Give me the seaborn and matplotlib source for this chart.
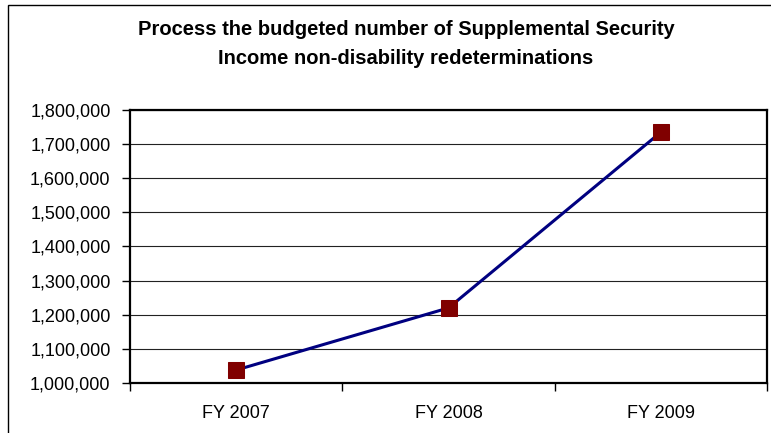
import matplotlib
matplotlib.use("Agg")
import matplotlib.pyplot as plt
import matplotlib.ticker as mticker
from matplotlib.patches import Rectangle
import seaborn as sns
import pandas as pd

fiscal_years = ["FY 2007", "FY 2008", "FY 2009"]
redeterminations = [1038000, 1220000, 1735000]
y_ticks = [1000000, 1100000, 1200000, 1300000, 1400000, 1500000, 1600000, 1700000, 1800000]
title_text = "Process the budgeted number of Supplemental Security\nIncome non-disability redeterminations"

sns.set_theme(style="white")
plt.rcParams["font.family"] = ["Liberation Sans", "DejaVu Sans"]
plt.rcParams["text.color"] = "black"

df = pd.DataFrame({"year": fiscal_years, "value": redeterminations})
df["pos"] = range(len(df))

fig = plt.figure(figsize=(7.71, 4.33), dpi=100)
ax = fig.add_axes([130 / 771, 50 / 433, 637 / 771, 273 / 433])

sns.lineplot(data=df, x="pos", y="value", ax=ax, color="#000080", linewidth=2.2,
             marker="s", markersize=11, markerfacecolor="#800000",
             markeredgecolor="#800000", zorder=3)

ax.set_xlim(-0.5, len(fiscal_years) - 0.5)
ax.set_ylim(y_ticks[0], y_ticks[-1])
ax.set_yticks(y_ticks)
ax.yaxis.set_major_formatter(mticker.FuncFormatter(lambda v, p: f"{int(v):,}"))
ax.set_xticks(range(len(fiscal_years)))
ax.set_xticklabels(fiscal_years)
ax.set_xticks([i - 0.5 for i in range(len(fiscal_years) + 1)], minor=True)
ax.tick_params(axis="x", which="major", length=0, pad=16, labelsize=13, labelcolor="black")
ax.tick_params(axis="x", which="minor", length=6, width=1, color="black", direction="out", bottom=True)
ax.tick_params(axis="y", which="major", length=6, width=1, color="black", direction="out",
               left=True, pad=8, labelsize=13, labelcolor="black")
ax.set_xlabel("")
ax.set_ylabel("")

ax.grid(axis="y", color="#222222", linewidth=0.8)
ax.grid(axis="x", visible=False)
for side in ["left", "right", "top", "bottom"]:
    ax.spines[side].set_visible(True)
    ax.spines[side].set_color("black")
    ax.spines[side].set_linewidth(1.6)

fig.text(406 / 771, 1 - 44 / 433, title_text, ha="center", va="center",
         fontsize=14.5, fontweight="bold", linespacing=1.72, color="black")

fig.patches.append(Rectangle((8 / 771, -0.1), 1.2, 1.1 - 5 / 433, transform=fig.transFigure,
                             fill=False, edgecolor="black", linewidth=1.0, zorder=0))

fig.savefig("out.png", dpi=100, facecolor="white")
